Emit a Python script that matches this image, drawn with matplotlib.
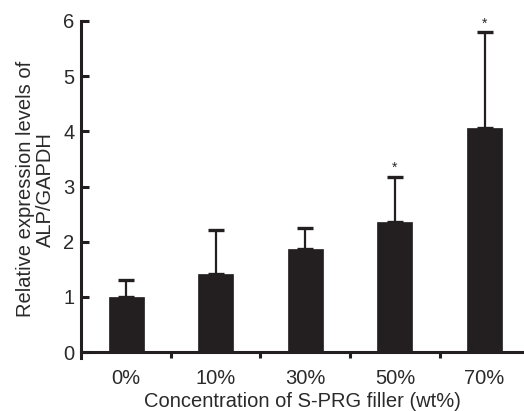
import numpy as np
import matplotlib
matplotlib.use("Agg")
import matplotlib.pyplot as plt

plt.rcParams['font.family'] = ['Liberation Sans', 'DejaVu Sans']

# Data
categories = ["0%", "10%", "30%", "50%", "70%"]
means = [0.99, 1.42, 1.87, 2.36, 4.06]
upper_err = [0.31, 0.79, 0.37, 0.82, 1.74]
significant = [False, False, False, True, True]

bar_color = "#231f20"
text_color = "#2a2a2a"
fs = 14.5

fig = plt.figure(figsize=(5.24, 4.11), dpi=100)
ax = fig.add_axes([0.155, 0.130, 0.845, 0.819])

x = np.arange(len(categories))
ax.bar(x, means, width=0.39, color=bar_color, edgecolor=bar_color, linewidth=0.5, zorder=2)
ax.errorbar(x, means, yerr=[np.zeros(len(means)), upper_err], fmt='none',
            ecolor=bar_color, elinewidth=1.6, capsize=5.5, capthick=2.4, zorder=1)

# Asterisks above significant bars
for xi, m, e, sig in zip(x, means, upper_err, significant):
    if sig:
        ax.text(xi, m + e + 0.03, "*", ha='center', va='bottom', fontsize=10, color=text_color)

ax.set_xlim(-0.5, 4.44)
ax.set_ylim(-0.1, 6)
ax.set_yticks(range(0, 7))

# x-axis ticks sit between the bars, labels under the bars
ax.set_xticks(np.arange(0.5, 4.0, 1.0))
ax.set_xticklabels([])
ax.set_xticks(x, minor=True)
ax.set_xticklabels(categories, minor=True)
ax.tick_params(axis='x', which='minor', length=0, pad=12, labelsize=fs, labelcolor=text_color)
ax.tick_params(axis='x', which='major', direction='out', length=4.5, width=2.2, color=bar_color)
ax.tick_params(axis='y', direction='in', length=5.5, width=2.2, color=bar_color,
               labelsize=fs, labelcolor=text_color, pad=5)

for side in ['top', 'right']:
    ax.spines[side].set_visible(False)
ax.spines['bottom'].set_position(('data', 0))
for side in ['bottom', 'left']:
    ax.spines[side].set_linewidth(2.2)
    ax.spines[side].set_color(bar_color)

ax.set_xlabel("Concentration of S-PRG filler (wt%)", fontsize=fs, color=text_color, labelpad=3)
ax.set_ylabel("Relative expression levels of\nALP/GAPDH", fontsize=fs, color=text_color,
              labelpad=6, linespacing=1.05)

fig.savefig("out.png", dpi=100)
